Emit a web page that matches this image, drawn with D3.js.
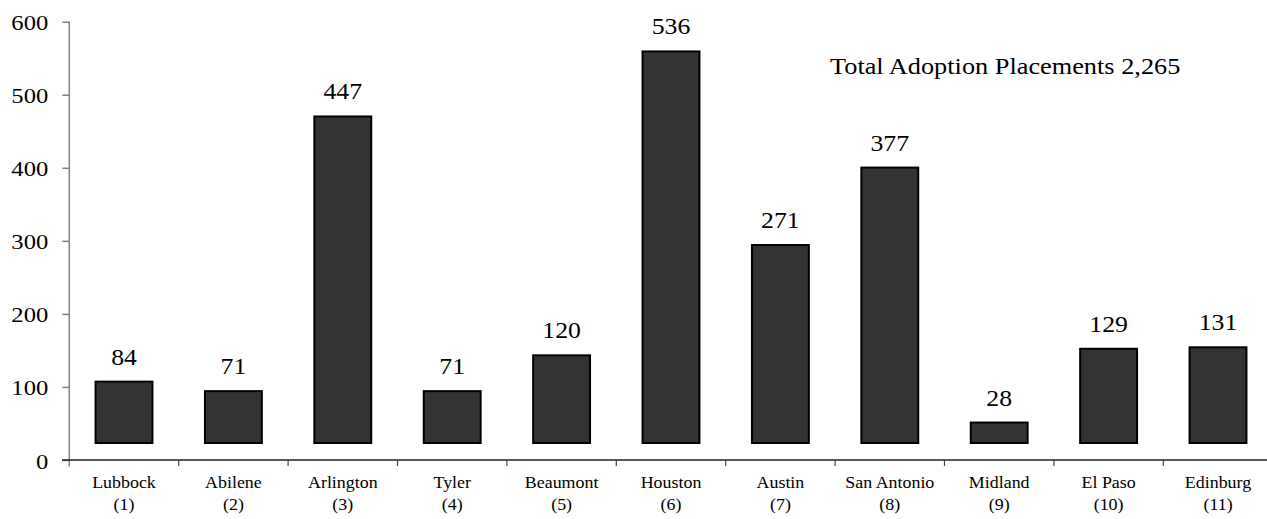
<!DOCTYPE html>
<html>
<head>
<meta charset="utf-8">
<script src="https://cdn.jsdelivr.net/npm/d3@7"></script>
<style>
  html, body { margin: 0; padding: 0; background: #fff; }
  svg { display: block; }
  text { font-family: "Liberation Serif", "Times New Roman", serif; fill: #000; }
</style>
</head>
<body>
<svg id="chart" width="1267" height="519"></svg>
<script>
const regions = ["Lubbock", "Abilene", "Arlington", "Tyler", "Beaumont", "Houston", "Austin", "San Antonio", "Midland", "El Paso", "Edinburg"];
const regionNumbers = ["(1)", "(2)", "(3)", "(4)", "(5)", "(6)", "(7)", "(8)", "(9)", "(10)", "(11)"];
const placements = [84, 71, 447, 71, 120, 536, 271, 377, 28, 129, 131];
const yTicks = [0, 100, 200, 300, 400, 500, 600];
const totalLabel = "Total Adoption Placements 2,265";

const SX = 1.12;          // horizontal stretch of the reference's text
const depth = 17;         // vertical lift of bars (pseudo-3D)

const svg = d3.select("#chart");

const x = d3.scaleBand()
  .domain(regions)
  .range([69.3, 1272.7])
  .paddingInner(0.48)
  .paddingOuter(0.24);

const y = d3.scaleLinear()
  .domain([0, 600])
  .range([460, 21.7]);

// Y axis
const yAxis = d3.axisLeft(y)
  .tickValues(yTicks)
  .tickSize(7)
  .tickSizeOuter(0)
  .tickPadding(14);

const gy = svg.append("g")
  .attr("transform", "translate(69.3,0)")
  .call(yAxis);
gy.select(".domain").remove();
gy.selectAll(".tick line").attr("stroke", "#808080").attr("stroke-width", 1.5);
gy.selectAll(".tick text")
  .attr("font-family", "Liberation Serif, Times New Roman, serif")
  .attr("font-size", 22)
  .attr("fill", "#000")
  .attr("dy", null)
  .attr("y", 8)
  .attr("x", -21 / SX)
  .attr("transform", `scale(${SX},1)`);
gy.append("line")
  .attr("x1", 0).attr("x2", 0)
  .attr("y1", y(600)).attr("y2", y(0) + 6.5)
  .attr("stroke", "#808080").attr("stroke-width", 1.5);

// X axis line
svg.append("line")
  .attr("x1", 62).attr("x2", 1267)
  .attr("y1", y(0)).attr("y2", y(0))
  .attr("stroke", "#222").attr("stroke-width", 1.5);

// X axis boundary ticks
const half = x.step() * x.paddingInner() / 2;
const boundaries = regions.slice(1).map(r => x(r) - half);
svg.append("g").selectAll("line")
  .data(boundaries)
  .join("line")
  .attr("x1", d => d).attr("x2", d => d)
  .attr("y1", y(0)).attr("y2", y(0) + 6)
  .attr("stroke", "#444").attr("stroke-width", 1.2);

// X category labels via axis
const xAxis = d3.axisBottom(x).tickSize(0).tickPadding(0);
const gx = svg.append("g")
  .attr("transform", `translate(0,${y(0)})`)
  .call(xAxis);
gx.select(".domain").remove();
gx.selectAll(".tick text").remove();
gx.selectAll(".tick").each(function(d, i) {
  const t = d3.select(this).append("text")
    .attr("text-anchor", "middle")
    .attr("font-size", 16)
    .attr("transform", `scale(${SX},1)`);
  t.append("tspan").attr("x", 0).attr("y", 28).text(d);
  t.append("tspan").attr("x", 0).attr("y", 50).text(regionNumbers[i]);
});

// Bars
svg.append("g").selectAll("rect")
  .data(placements)
  .join("rect")
  .attr("x", (d, i) => x(regions[i]))
  .attr("width", x.bandwidth())
  .attr("y", d => y(d) - depth)
  .attr("height", d => y(0) - y(d))
  .attr("fill", "#333333")
  .attr("stroke", "#000")
  .attr("stroke-width", 2);

// Value labels
svg.append("g").selectAll("text")
  .data(placements)
  .join("text")
  .attr("text-anchor", "middle")
  .attr("font-size", 23)
  .attr("transform", (d, i) => `translate(${x(regions[i]) + x.bandwidth() / 2},${y(d) - depth - 17}) scale(${SX},1)`)
  .text(d => d);

// Total annotation
svg.append("text")
  .attr("font-size", 23.5)
  .attr("transform", `translate(830,74) scale(${SX},1)`)
  .text(totalLabel);
</script>
</body>
</html>
